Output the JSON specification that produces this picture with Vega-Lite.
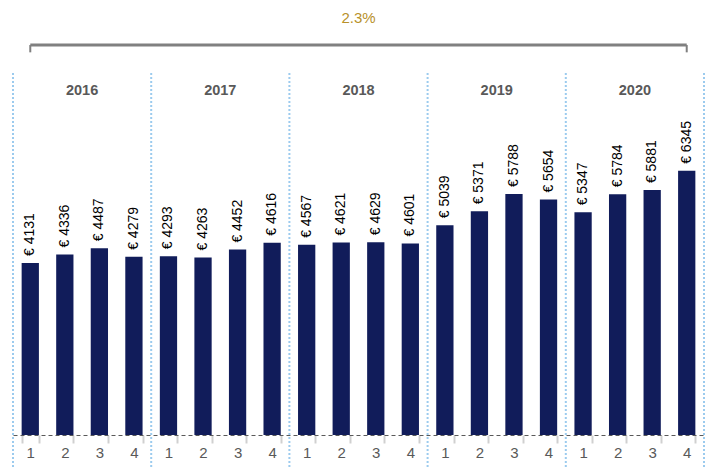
{
  "$schema": "https://vega.github.io/schema/vega-lite/v6.json",
  "width": 691,
  "height": 435,
  "autosize": "none",
  "padding": {"left": 13, "top": 0, "right": 3, "bottom": 33},
  "config": {"view": {"stroke": null}, "font": "Liberation Sans"},
  "datasets": {
    "q": [
      {"k": "2016-1", "year": "2016", "v": 4131}, {"k": "2016-2", "year": "2016", "v": 4336}, {"k": "2016-3", "year": "2016", "v": 4487}, {"k": "2016-4", "year": "2016", "v": 4279},
      {"k": "2017-1", "year": "2017", "v": 4293}, {"k": "2017-2", "year": "2017", "v": 4263}, {"k": "2017-3", "year": "2017", "v": 4452}, {"k": "2017-4", "year": "2017", "v": 4616},
      {"k": "2018-1", "year": "2018", "v": 4567}, {"k": "2018-2", "year": "2018", "v": 4621}, {"k": "2018-3", "year": "2018", "v": 4629}, {"k": "2018-4", "year": "2018", "v": 4601},
      {"k": "2019-1", "year": "2019", "v": 5039}, {"k": "2019-2", "year": "2019", "v": 5371}, {"k": "2019-3", "year": "2019", "v": 5788}, {"k": "2019-4", "year": "2019", "v": 5654},
      {"k": "2020-1", "year": "2020", "v": 5347}, {"k": "2020-2", "year": "2020", "v": 5784}, {"k": "2020-3", "year": "2020", "v": 5881}, {"k": "2020-4", "year": "2020", "v": 6345}
    ],
    "years": [
      {"k": "2016-1", "mid": "2016-2", "year": "2016"},
      {"k": "2017-1", "mid": "2017-2", "year": "2017"},
      {"k": "2018-1", "mid": "2018-2", "year": "2018"},
      {"k": "2019-1", "mid": "2019-2", "year": "2019"},
      {"k": "2020-1", "mid": "2020-2", "year": "2020"}
    ],
    "span": [{"from": "2016-1", "to": "2020-4", "mid": "2018-2", "label": "2.3%"}]
  },
  "layer": [
    {
      "data": {"name": "q"},
      "mark": {"type": "bar", "color": "#111c5a"},
      "encoding": {
        "x": {
          "field": "k", "type": "ordinal", "sort": null,
          "scale": {"paddingInner": 0.5, "paddingOuter": 0.25},
          "axis": {
            "title": null, "labelAngle": 0,
            "labelExpr": "split(datum.value, '-')[1]",
            "labelFontSize": 15, "labelColor": "#595959", "labelPadding": 2,
            "domainColor": "#595959", "domainDash": [4, 3], "domainWidth": 1,
            "tickBand": "extent", "tickOffset": -8.64,
            "tickColor": "#d0d0d0", "tickWidth": 2, "tickSize": 8
          }
        },
        "y": {
          "field": "v", "type": "quantitative",
          "scale": {"domain": [0, 10447], "nice": false, "zero": true},
          "axis": null
        }
      }
    },
    {
      "data": {"name": "q"},
      "transform": [{"calculate": "'€ ' + datum.v", "as": "lab"}],
      "mark": {"type": "text", "angle": 270, "align": "left", "baseline": "middle", "dx": 7, "fontSize": 14, "color": "#000000"},
      "encoding": {
        "x": {"field": "k", "type": "ordinal", "sort": null},
        "y": {"field": "v", "type": "quantitative"},
        "text": {"field": "lab"}
      }
    },
    {
      "data": {"name": "years"},
      "mark": {"type": "rule", "color": "#9ccbee", "strokeWidth": 2, "strokeDash": [2, 2]},
      "encoding": {
        "x": {"field": "k", "type": "ordinal", "bandPosition": -0.5},
        "y": {"datum": 8694},
        "y2": {"datum": -800}
      }
    },
    {
      "data": {"name": "span"},
      "mark": {"type": "rule", "color": "#9ccbee", "strokeWidth": 2, "strokeDash": [2, 2]},
      "encoding": {
        "x": {"field": "to", "type": "ordinal", "bandPosition": 1.5},
        "y": {"datum": 8694},
        "y2": {"datum": -800}
      }
    },
    {
      "data": {"name": "years"},
      "mark": {"type": "text", "fontSize": 14.5, "fontWeight": "bold", "color": "#595959", "baseline": "middle", "align": "center"},
      "encoding": {
        "x": {"field": "mid", "type": "ordinal", "bandPosition": 1.5},
        "y": {"datum": 8260},
        "text": {"field": "year"}
      }
    },
    {
      "data": {"name": "span"},
      "mark": {"type": "rule", "color": "#808080", "strokeWidth": 3},
      "encoding": {
        "x": {"field": "from", "type": "ordinal", "bandPosition": 0.5},
        "x2": {"field": "to", "bandPosition": 0.5},
        "y": {"datum": 9366}
      }
    },
    {
      "data": {"name": "span"},
      "mark": {"type": "rule", "color": "#808080", "strokeWidth": 2},
      "encoding": {
        "x": {"field": "from", "type": "ordinal", "bandPosition": 0.5},
        "y": {"datum": 9366},
        "y2": {"datum": 9190}
      }
    },
    {
      "data": {"name": "span"},
      "mark": {"type": "rule", "color": "#808080", "strokeWidth": 2},
      "encoding": {
        "x": {"field": "to", "type": "ordinal", "bandPosition": 0.5},
        "y": {"datum": 9366},
        "y2": {"datum": 9190}
      }
    },
    {
      "data": {"name": "span"},
      "mark": {"type": "text", "fontSize": 15, "color": "#b8912a", "baseline": "middle", "align": "center"},
      "encoding": {
        "x": {"field": "mid", "type": "ordinal", "bandPosition": 1.5},
        "y": {"datum": 10010},
        "text": {"field": "label"}
      }
    }
  ]
}
